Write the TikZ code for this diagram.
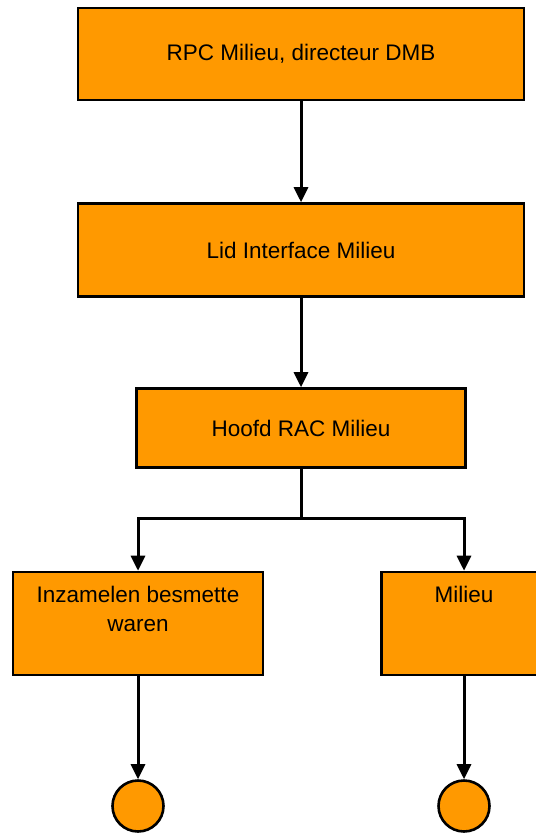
\documentclass[tikz,border=0pt]{standalone}
\usepackage{fontspec}
\setmainfont{Liberation Sans}
\usetikzlibrary{arrows.meta}
\definecolor{boxOrange}{RGB}{255,153,0}

\begin{document}
\begin{tikzpicture}
[x=1pt,y=-1pt,
  arrowDecorate/.style={->,>={Triangle[width=14pt,length=15pt]},line width=3pt},%
  lineDecorate/.style={line width=3pt},%
  boxDecorate/.style={shape=rectangle,draw,line width=2.6pt,fill=boxOrange,inner sep=0pt,%
    font=\fontsize{22.5}{29}\selectfont},%
  endDecorate/.style={shape=circle,draw,line width=2.6pt,fill=boxOrange,minimum size=51pt,inner sep=0pt}]
\useasboundingbox (0,0) rectangle (535,834);
%% boxes
\foreach \nodename/\x/\y/\w/\h/\txt in {
  rpc/301/54/446/92/{RPC Milieu, directeur DMB},
  lid/301/250/446/93/{Lid Interface Milieu},
  hoofd/301/428/329/79/{Hoofd RAC Milieu}}
{
  \node (\nodename) at (\x,\y) [boxDecorate,minimum width=\w pt,minimum height=\h pt] {\txt};
}
\node (inzamelen) at (138,623.5) [boxDecorate]
  {\parbox[c][103pt][t]{250pt}{\centering\vspace*{14pt}Inzamelen besmette\\ waren}};
\node (milieu) at (464,623.5) [boxDecorate]
  {\parbox[c][103pt][t]{165pt}{\centering\vspace*{14pt}Milieu}};
%% end points
\node (endA) at (138,806) [endDecorate] {};
\node (endB) at (464,806) [endDecorate] {};
\coordinate (fork) at (301,518);
%% edges or lines
\path
\foreach \startnode/\endnode in {rpc/lid, lid/hoofd, inzamelen/endA, milieu/endB}
{
  (\startnode) edge[arrowDecorate] (\endnode)
};
\draw[lineDecorate] (hoofd) -- (fork);
\draw[arrowDecorate] (fork) -| (inzamelen);
\draw[arrowDecorate] (fork) -| (milieu);
\end{tikzpicture}
\end{document}
